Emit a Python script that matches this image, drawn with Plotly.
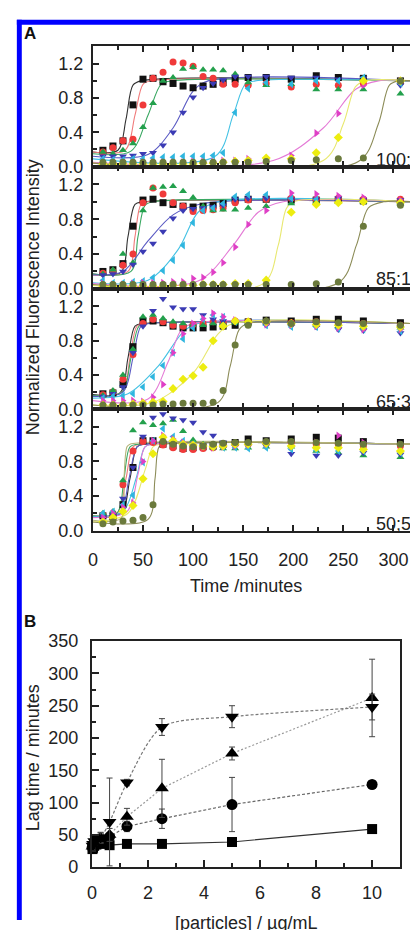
import plotly.graph_objects as go

W, H = 410, 930


def px(x):
    return x / W


def py(y):
    return 1 - y / H


# ---------------- Panel A data ----------------
t_min = [10, 20, 30, 40, 50, 60, 70, 80, 90, 100, 110, 120, 130, 142, 155, 173, 198, 223, 245, 270, 307]

ratio_labels = ["100:0", "85:15", "65:35", "50;50"]

series_names = ["black", "red", "green", "blue", "cyan", "magenta", "yellow", "olive"]
marker_symbols = ["square", "circle", "triangle-up", "triangle-down", "triangle-left",
                  "triangle-right", "diamond", "circle"]
marker_colors = ["#111111", "#f03a3a", "#23a04c", "#3b3bb4", "#2fb6df", "#df3fc6", "#eded10", "#6b7a3c"]
line_colors = ["#333333", "#f07a7a", "#3aa862", "#5b5bc4", "#44c2e4", "#e47ad6", "#e8e870", "#8c8c58"]

# 100:0
r100_black = [0.19, 0.24, 0.30, 0.72, 1.02, 1.03, 0.99, 0.97, 0.94, 0.92, 0.94, 0.96, 0.98, 1.02, 1.04, 1.04, 1.02, 1.06, 1.04, 1.03, 1.00]
r100_red = [0.17, 0.22, 0.30, 0.32, 0.72, 1.03, 1.10, 1.22, 1.21, 1.17, 1.05, 1.03, 0.96, 0.96, 0.95, 0.97, 0.93, 0.96, 0.95, 0.97, 0.99]
r100_green = [0.17, 0.15, 0.19, 0.27, 0.46, 0.74, 1.00, 1.04, 1.14, 1.16, 1.13, 1.13, 1.12, 1.08, 0.98, 0.95, 0.96, 0.90, 0.90, 0.90, 0.85]
r100_blue = [0.12, 0.12, 0.12, 0.13, 0.15, 0.16, 0.25, 0.40, 0.63, 0.81, 0.92, 0.97, 1.01, 1.05, 1.05, 1.05, 1.04, 1.04, 1.02, 1.03, 0.95]
r100_cyan = [0.09, 0.08, 0.08, 0.09, 0.09, 0.10, 0.11, 0.11, 0.12, 0.12, 0.12, 0.13, 0.16, 0.63, 0.91, 0.98, 0.96, 1.00, 1.00, 1.04, 0.97]
r100_magenta = [0.05, 0.05, 0.05, 0.05, 0.05, 0.05, 0.05, 0.05, 0.05, 0.06, 0.06, 0.06, 0.07, 0.07, 0.09, 0.08, 0.13, 0.39, 0.62, 0.95, 1.00]
r100_yellow = [0.03, 0.03, 0.03, 0.03, 0.03, 0.03, 0.03, 0.03, 0.03, 0.03, 0.04, 0.04, 0.05, 0.06, 0.07, 0.10, 0.09, 0.16, 0.34, 1.00, 1.00]
r100_olive = [0.05, 0.05, 0.05, 0.05, 0.05, 0.05, 0.05, 0.05, 0.05, 0.05, 0.05, 0.05, 0.05, 0.05, 0.05, 0.06, 0.07, 0.08, 0.09, 0.10, 1.00]

# 85:15
r85_black = [0.20, 0.22, 0.29, 0.72, 1.02, 1.03, 0.99, 0.97, 0.95, 0.94, 0.95, 0.96, 0.98, 1.02, 1.03, 1.03, 1.02, 1.02, 1.02, 1.01, 1.00]
r85_red = [0.18, 0.20, 0.27, 0.40, 0.99, 1.16, 1.09, 0.99, 0.95, 0.89, 0.90, 0.91, 0.93, 0.99, 1.02, 1.03, 1.04, 1.03, 1.04, 1.03, 1.03]
r85_green = [0.17, 0.22, 0.40, 0.30, 0.90, 1.16, 1.17, 1.18, 1.12, 1.05, 0.95, 0.90, 0.91, 0.91, 0.93, 0.95, 0.98, 1.00, 1.00, 1.00, 0.98]
r85_blue = [0.16, 0.17, 0.20, 0.28, 0.43, 0.52, 0.66, 0.81, 0.90, 0.92, 0.93, 0.94, 0.96, 1.03, 1.04, 1.04, 1.03, 1.03, 1.04, 1.02, 1.02]
r85_cyan = [0.10, 0.07, 0.07, 0.08, 0.09, 0.13, 0.21, 0.33, 0.50, 0.76, 0.90, 0.93, 0.98, 1.06, 1.08, 1.08, 1.04, 1.03, 1.02, 1.02, 1.00]
r85_magenta = [0.06, 0.05, 0.05, 0.06, 0.07, 0.07, 0.07, 0.08, 0.08, 0.12, 0.13, 0.19, 0.30, 0.48, 0.74, 0.90, 1.10, 1.09, 1.07, 1.05, 1.02]
r85_yellow = [0.03, 0.03, 0.03, 0.03, 0.03, 0.03, 0.03, 0.04, 0.04, 0.04, 0.05, 0.05, 0.05, 0.06, 0.06, 0.10, 0.88, 0.97, 0.99, 1.00, 0.99]
r85_olive = [0.05, 0.05, 0.05, 0.05, 0.05, 0.05, 0.05, 0.05, 0.05, 0.05, 0.05, 0.05, 0.05, 0.05, 0.05, 0.05, 0.05, 0.06, 0.08, 0.72, 0.96]

# 65:35
r65_black = [0.18, 0.19, 0.29, 0.73, 1.03, 1.03, 1.01, 0.97, 0.95, 0.95, 0.95, 0.96, 0.97, 0.98, 1.02, 1.04, 1.03, 1.05, 1.05, 1.03, 1.01]
r65_red = [0.17, 0.20, 0.35, 0.64, 1.00, 1.05, 1.02, 0.98, 0.97, 0.99, 1.00, 1.02, 1.01, 1.03, 1.02, 1.02, 1.01, 1.02, 1.00, 1.00, 0.98]
r65_green = [0.16, 0.22, 0.40, 0.70, 1.08, 1.10, 1.06, 1.02, 1.00, 0.99, 0.98, 1.00, 1.00, 1.01, 1.00, 1.00, 1.00, 0.98, 0.97, 0.96, 0.95]
r65_blue = [0.15, 0.18, 0.26, 0.66, 0.97, 1.15, 1.29, 1.19, 1.17, 1.17, 1.10, 1.05, 1.03, 1.02, 1.00, 0.98, 0.97, 0.96, 0.93, 0.92, 0.89]
r65_cyan = [0.13, 0.15, 0.16, 0.18, 0.26, 0.38, 0.51, 0.66, 0.82, 0.95, 1.05, 1.10, 1.08, 1.02, 1.00, 0.98, 0.96, 0.96, 0.94, 0.93, 0.91]
r65_magenta = [0.10, 0.10, 0.10, 0.10, 0.09, 0.14, 0.29, 0.66, 0.88, 1.00, 1.06, 1.12, 1.08, 1.04, 1.00, 0.99, 0.98, 0.97, 0.95, 0.93, 0.93]
r65_yellow = [0.05, 0.05, 0.05, 0.06, 0.07, 0.08, 0.09, 0.24, 0.35, 0.39, 0.49, 0.80, 0.97, 1.03, 1.02, 1.02, 1.00, 0.99, 0.98, 0.97, 0.96]
r65_olive = [0.05, 0.05, 0.05, 0.05, 0.05, 0.05, 0.06, 0.06, 0.07, 0.07, 0.07, 0.08, 0.22, 0.75, 0.98, 1.03, 1.00, 1.02, 1.01, 1.00, 0.98]

# 50:50
r50_black = [0.17, 0.16, 0.30, 0.73, 1.04, 1.04, 1.00, 0.98, 0.95, 0.96, 0.97, 0.98, 1.00, 1.02, 1.06, 1.04, 1.06, 1.08, 1.07, 1.03, 1.02]
r50_red = [0.18, 0.20, 0.53, 0.92, 1.03, 1.02, 0.99, 0.96, 0.94, 0.94, 0.95, 0.96, 0.98, 1.00, 1.00, 1.01, 1.02, 1.00, 1.00, 0.98, 0.98]
r50_green = [0.20, 0.22, 0.58, 1.16, 1.25, 1.22, 1.24, 1.28, 1.15, 1.05, 1.00, 0.96, 0.95, 0.95, 0.96, 0.97, 0.97, 0.92, 0.90, 0.87, 0.85]
r50_blue = [0.16, 0.18, 0.37, 0.73, 1.09, 1.31, 1.35, 1.30, 1.28, 1.25, 1.14, 1.10, 1.02, 1.00, 0.98, 0.98, 0.89, 0.87, 0.87, 0.90, 0.88]
r50_cyan = [0.20, 0.22, 0.30, 0.41, 0.79, 1.04, 1.18, 1.09, 1.04, 1.00, 0.98, 0.97, 0.96, 0.96, 0.95, 0.96, 0.94, 0.93, 0.92, 0.92, 0.90]
r50_magenta = [0.15, 0.20, 0.27, 0.32, 0.80, 1.04, 1.10, 1.06, 1.02, 0.99, 0.97, 0.96, 0.97, 0.98, 0.99, 1.00, 0.98, 1.02, 1.10, 1.02, 1.00]
r50_yellow = [0.10, 0.15, 0.22, 0.29, 0.60, 0.89, 1.08, 1.04, 1.00, 0.99, 0.98, 0.97, 0.98, 1.00, 1.00, 1.01, 0.98, 0.96, 0.96, 0.94, 0.92]
r50_olive = [0.08, 0.10, 0.11, 0.12, 0.15, 0.30, 1.03, 1.00, 0.98, 0.97, 0.98, 1.00, 1.01, 1.02, 1.02, 1.03, 1.03, 1.02, 1.01, 1.00, 1.00]

# fitted-curve knots (t, y)
f100_black = [(0, 0.17), (25, 0.19), (33, 0.55), (40, 0.95), (48, 1.0), (320, 1.0)]
f100_red = [(0, 0.17), (32, 0.19), (42, 0.6), (50, 0.96), (58, 1.0), (320, 1.0)]
f100_green = [(0, 0.15), (38, 0.18), (55, 0.6), (68, 0.96), (78, 1.0), (320, 1.0)]
f100_blue = [(0, 0.12), (55, 0.14), (80, 0.45), (100, 0.88), (115, 1.0), (320, 1.0)]
f100_cyan = [(0, 0.09), (122, 0.12), (140, 0.6), (152, 0.96), (162, 1.0), (320, 1.0)]
f100_magenta = [(0, 0.05), (180, 0.07), (230, 0.45), (262, 0.9), (285, 1.0), (320, 1.0)]
f100_yellow = [(0, 0.04), (230, 0.07), (250, 0.5), (262, 0.93), (272, 1.0), (320, 1.0)]
f100_olive = [(0, 0.04), (265, 0.06), (285, 0.5), (296, 0.95), (305, 1.0), (320, 1.0)]

f85_black = [(0, 0.17), (28, 0.19), (35, 0.6), (42, 0.97), (50, 1.0), (320, 1.0)]
f85_red = [(0, 0.16), (35, 0.2), (42, 0.6), (48, 0.97), (55, 1.0), (320, 1.0)]
f85_green = [(0, 0.17), (38, 0.2), (45, 0.6), (52, 0.96), (60, 1.0), (320, 1.0)]
f85_blue = [(0, 0.16), (30, 0.2), (55, 0.55), (80, 0.85), (110, 0.98), (320, 1.0)]
f85_cyan = [(0, 0.07), (55, 0.1), (85, 0.45), (105, 0.88), (125, 1.0), (320, 1.0)]
f85_magenta = [(0, 0.06), (105, 0.09), (140, 0.5), (165, 0.88), (190, 1.0), (320, 1.0)]
f85_yellow = [(0, 0.04), (170, 0.06), (185, 0.5), (193, 0.92), (200, 1.0), (320, 1.0)]
f85_olive = [(0, 0.05), (245, 0.07), (263, 0.5), (275, 0.93), (290, 1.0), (320, 1.0)]

f65_black = [(0, 0.17), (27, 0.19), (35, 0.6), (42, 0.97), (50, 1.0), (320, 1.0)]
f65_red = [(0, 0.16), (29, 0.2), (37, 0.6), (44, 0.97), (52, 1.0), (320, 1.0)]
f65_green = [(0, 0.16), (29, 0.2), (38, 0.6), (46, 0.97), (54, 1.0), (320, 1.0)]
f65_blue = [(0, 0.15), (30, 0.2), (40, 0.6), (48, 0.97), (56, 1.0), (320, 1.0)]
f65_cyan = [(0, 0.13), (35, 0.18), (65, 0.5), (90, 0.9), (105, 1.0), (320, 1.0)]
f65_magenta = [(0, 0.10), (55, 0.12), (75, 0.55), (88, 0.92), (100, 1.0), (320, 1.0)]
f65_yellow = [(0, 0.05), (60, 0.08), (100, 0.42), (125, 0.88), (140, 1.0), (320, 1.0)]
f65_olive = [(0, 0.05), (125, 0.08), (137, 0.5), (146, 0.93), (155, 1.0), (320, 1.0)]

f50_black = [(0, 0.16), (28, 0.2), (37, 0.6), (44, 0.97), (52, 1.0), (320, 1.0)]
f50_red = [(0, 0.17), (24, 0.2), (33, 0.6), (40, 0.97), (48, 1.0), (320, 1.0)]
f50_green = [(0, 0.17), (24, 0.2), (31, 0.6), (37, 0.97), (45, 1.0), (320, 1.0)]
f50_blue = [(0, 0.16), (27, 0.2), (36, 0.6), (44, 0.97), (52, 1.0), (320, 1.0)]
f50_cyan = [(0, 0.16), (30, 0.22), (43, 0.6), (52, 0.97), (60, 1.0), (320, 1.0)]
f50_magenta = [(0, 0.15), (34, 0.22), (45, 0.65), (52, 0.97), (60, 1.0), (320, 1.0)]
f50_yellow = [(0, 0.10), (35, 0.2), (52, 0.7), (60, 0.97), (68, 1.0), (320, 1.0)]
f50_olive = [(0, 0.10), (55, 0.13), (62, 0.6), (66, 0.97), (72, 1.0), (320, 1.0)]
f50_extra = [(0, 0.12), (28, 0.14), (31, 0.6), (34, 0.97), (37, 1.0), (320, 1.0)]

panels_points = [
    [r100_black, r100_red, r100_green, r100_blue, r100_cyan, r100_magenta, r100_yellow, r100_olive],
    [r85_black, r85_red, r85_green, r85_blue, r85_cyan, r85_magenta, r85_yellow, r85_olive],
    [r65_black, r65_red, r65_green, r65_blue, r65_cyan, r65_magenta, r65_yellow, r65_olive],
    [r50_black, r50_red, r50_green, r50_blue, r50_cyan, r50_magenta, r50_yellow, r50_olive],
]
panels_fits = [
    [f100_black, f100_red, f100_green, f100_blue, f100_cyan, f100_magenta, f100_yellow, f100_olive],
    [f85_black, f85_red, f85_green, f85_blue, f85_cyan, f85_magenta, f85_yellow, f85_olive],
    [f65_black, f65_red, f65_green, f65_blue, f65_cyan, f65_magenta, f65_yellow, f65_olive],
    [f50_black, f50_red, f50_green, f50_blue, f50_cyan, f50_magenta, f50_yellow, f50_olive],
]

# ---------------- Panel B data ----------------
conc = [0.02, 0.04, 0.08, 0.16, 0.31, 0.63, 1.25, 2.5, 5, 10]
lag_square = [28, 30, 33, 35, 36, 34, 36, 36, 39, 59]
lag_square_err = [5, 5, 5, 5, 5, 5, 3, 3, 3, 3]
lag_circle = [30, 33, 36, 40, 44, 47, 63, 75, 97, 128]
lag_circle_err = [6, 6, 6, 6, 6, 6, 8, 15, 42, 3]
lag_tri_up = [32, 35, 38, 42, 45, 50, 78, 122, 176, 262]
lag_tri_up_err = [6, 6, 6, 6, 8, 10, 13, 45, 10, 60]
lag_tri_down = [33, 36, 40, 44, 46, 70, 131, 217, 233, 248]
lag_tri_down_err = [6, 6, 6, 6, 8, 68, 5, 13, 17, 20]

# ---------------- geometry ----------------
FONT = "Liberation Sans, Arial, sans-serif"
A_LEFT, A_RIGHT = 89, 410
A_XRANGE = [0, (A_RIGHT - A_LEFT) / 1.014]
sub_px = [(37, 160), (160, 285), (285, 408), (408, 532)]
YR = [0, 1.405]

fig = go.Figure()

for i in range(4):
    xa = "x" if i == 0 else f"x{i + 1}"
    ya = "y" if i == 0 else f"y{i + 1}"
    for s in range(8):
        knots = panels_fits[i][s]
        fig.add_trace(go.Scatter(
            x=[k[0] for k in knots], y=[k[1] for k in knots], mode="lines",
            line=dict(color=line_colors[s], width=1.1, shape="spline", smoothing=0.9),
            xaxis=xa, yaxis=ya, showlegend=False, hoverinfo="skip"))
    if i == 3:
        fig.add_trace(go.Scatter(
            x=[k[0] for k in f50_extra], y=[k[1] for k in f50_extra], mode="lines",
            line=dict(color="#b4b478", width=1.1, shape="spline", smoothing=0.9),
            xaxis=xa, yaxis=ya, showlegend=False, hoverinfo="skip"))
    for s in range(8):
        fig.add_trace(go.Scatter(
            x=t_min, y=panels_points[i][s], mode="markers",
            marker=dict(symbol=marker_symbols[s], color=marker_colors[s], size=7,
                        line=dict(width=0)),
            xaxis=xa, yaxis=ya, showlegend=False, cliponaxis=False,
            name=f"{ratio_labels[i]} {series_names[s]}"))

# Panel B traces
fig.add_trace(go.Scatter(x=conc, y=lag_square, mode="lines+markers",
                         line=dict(color="#333333", width=1.2),
                         marker=dict(symbol="square", color="black", size=10),
                         error_y=dict(type="data", array=lag_square_err, color="#444444", thickness=1, width=3),
                         xaxis="x5", yaxis="y5", showlegend=False, cliponaxis=False))
fig.add_trace(go.Scatter(x=conc, y=lag_circle, mode="lines+markers",
                         line=dict(color="#666666", width=1.2, dash="3px,2px"),
                         marker=dict(symbol="circle", color="black", size=11),
                         error_y=dict(type="data", array=lag_circle_err, color="#444444", thickness=1, width=3),
                         xaxis="x5", yaxis="y5", showlegend=False, cliponaxis=False))
fig.add_trace(go.Scatter(x=conc, y=lag_tri_up, mode="lines+markers",
                         line=dict(color="#999999", width=1.2, dash="2px,2px"),
                         marker=dict(symbol="triangle-up", color="black", size=12),
                         error_y=dict(type="data", array=lag_tri_up_err, color="#444444", thickness=1, width=3),
                         xaxis="x5", yaxis="y5", showlegend=False, cliponaxis=False))
fig.add_trace(go.Scatter(x=conc, y=lag_tri_down, mode="lines+markers",
                         line=dict(color="#777777", width=1.2, dash="3px,2px", shape="spline", smoothing=0.8),
                         marker=dict(symbol="triangle-down", color="black", size=12),
                         error_y=dict(type="data", array=lag_tri_down_err, color="#444444", thickness=1, width=3),
                         xaxis="x5", yaxis="y5", showlegend=False, cliponaxis=False))

layout = dict(
    width=W, height=H, margin=dict(l=0, r=0, t=0, b=0),
    paper_bgcolor="white", plot_bgcolor="white",
    font=dict(family=FONT, size=18, color="#222222"),
    showlegend=False,
)

axis_line = dict(showline=True, linecolor="#222222", linewidth=2, showgrid=False, zeroline=False)

for i in range(4):
    xk = "xaxis" if i == 0 else f"xaxis{i + 1}"
    yk = "yaxis" if i == 0 else f"yaxis{i + 1}"
    yanchor = "y" if i == 0 else f"y{i + 1}"
    xanchor = "x" if i == 0 else f"x{i + 1}"
    top, bot = sub_px[i]
    layout[xk] = dict(axis_line, domain=[px(A_LEFT), px(A_RIGHT)], range=A_XRANGE,
                      anchor=yanchor, mirror="ticks", ticks="inside", ticklen=6, tickwidth=2,
                      tickcolor="#222222", dtick=50, tick0=0,
                      minor=dict(ticks="inside", ticklen=4, tickwidth=1.5, dtick=25, tickcolor="#222222"),
                      showticklabels=(i == 3), ticklabelstandoff=12,
                      tickfont=dict(size=18, family=FONT, color="#222222"))
    layout[yk] = dict(axis_line, domain=[py(bot), py(top)], range=YR, anchor=xanchor,
                      ticks="inside", ticklen=6, tickwidth=2, tickcolor="#222222",
                      tickvals=[0, 0.4, 0.8, 1.2], ticktext=["0.0", "0.4", "0.8", "1.2"],
                      minor=dict(ticks="inside", ticklen=4, tickwidth=1.5, tickvals=[0.2, 0.6, 1.0], tickcolor="#222222"),
                      ticklabelstandoff=4,
                      tickfont=dict(size=18, family=FONT, color="#222222"))

layout["xaxis5"] = dict(axis_line, domain=[px(88), px(400)], range=[0, 11], anchor="y5",
                        mirror=True, ticks="inside", ticklen=7, tickwidth=2, tickcolor="#222222",
                        tickvals=[0, 2, 4, 6, 8, 10],
                        minor=dict(ticks="inside", ticklen=4, tickwidth=1.5, tickvals=[1, 3, 5, 7, 9], tickcolor="#222222"),
                        ticklabelstandoff=8,
                        tickfont=dict(size=18, family=FONT, color="#222222"))
layout["yaxis5"] = dict(axis_line, domain=[py(876), py(645)], range=[0, 350], anchor="x5",
                        mirror=True, ticks="inside", ticklen=7, tickwidth=2, tickcolor="#222222",
                        dtick=50, tick0=0,
                        minor=dict(ticks="inside", ticklen=4, tickwidth=1.5, dtick=25, tickcolor="#222222"),
                        ticklabelstandoff=8,
                        tickfont=dict(size=18, family=FONT, color="#222222"))

fig.update_layout(**layout)

annotations = []
label_y = [153, 275, 401, 525]
for i in range(4):
    annotations.append(dict(text=ratio_labels[i], x=px(374), y=py(label_y[i]), xref="paper", yref="paper",
                            xanchor="left", yanchor="middle", showarrow=False,
                            font=dict(size=18, family=FONT, color="#222222")))
annotations += [
    dict(text="<b>A</b>", x=px(17), y=py(24), xref="paper", yref="paper", xanchor="left", yanchor="middle",
         showarrow=False, font=dict(size=17, family=FONT, color="#111111")),
    dict(text="<b>B</b>", x=px(17), y=py(625), xref="paper", yref="paper", xanchor="left", yanchor="middle",
         showarrow=False, font=dict(size=17, family=FONT, color="#111111")),
    dict(text="Normalized Fluorescence Intensity", x=px(28), y=py(294), xref="paper", yref="paper",
         xanchor="center", yanchor="middle", textangle=-90, showarrow=False,
         font=dict(size=18, family=FONT, color="#222222")),
    dict(text="Time /minutes", x=px(244), y=py(589), xref="paper", yref="paper",
         xanchor="center", yanchor="middle", showarrow=False,
         font=dict(size=18, family=FONT, color="#222222")),
    dict(text="Lag time / minutes", x=px(28), y=py(764), xref="paper", yref="paper",
         xanchor="center", yanchor="middle", textangle=-90, showarrow=False,
         font=dict(size=18, family=FONT, color="#222222")),
    dict(text="[particles] / µg/mL", x=px(244), y=py(933), xref="paper", yref="paper",
         xanchor="center", yanchor="middle", showarrow=False,
         font=dict(size=18, family=FONT, color="#222222")),
]

shapes = [
    dict(type="rect", xref="paper", yref="paper", x0=px(12), x1=px(17), y0=py(930), y1=py(10),
         fillcolor="#0000ff", line=dict(width=0), layer="above"),
    dict(type="rect", xref="paper", yref="paper", x0=px(12), x1=px(410), y0=py(15), y1=py(10),
         fillcolor="#0000ff", line=dict(width=0), layer="above"),
]

fig.update_layout(annotations=annotations, shapes=shapes)

fig.write_html("out.html")
